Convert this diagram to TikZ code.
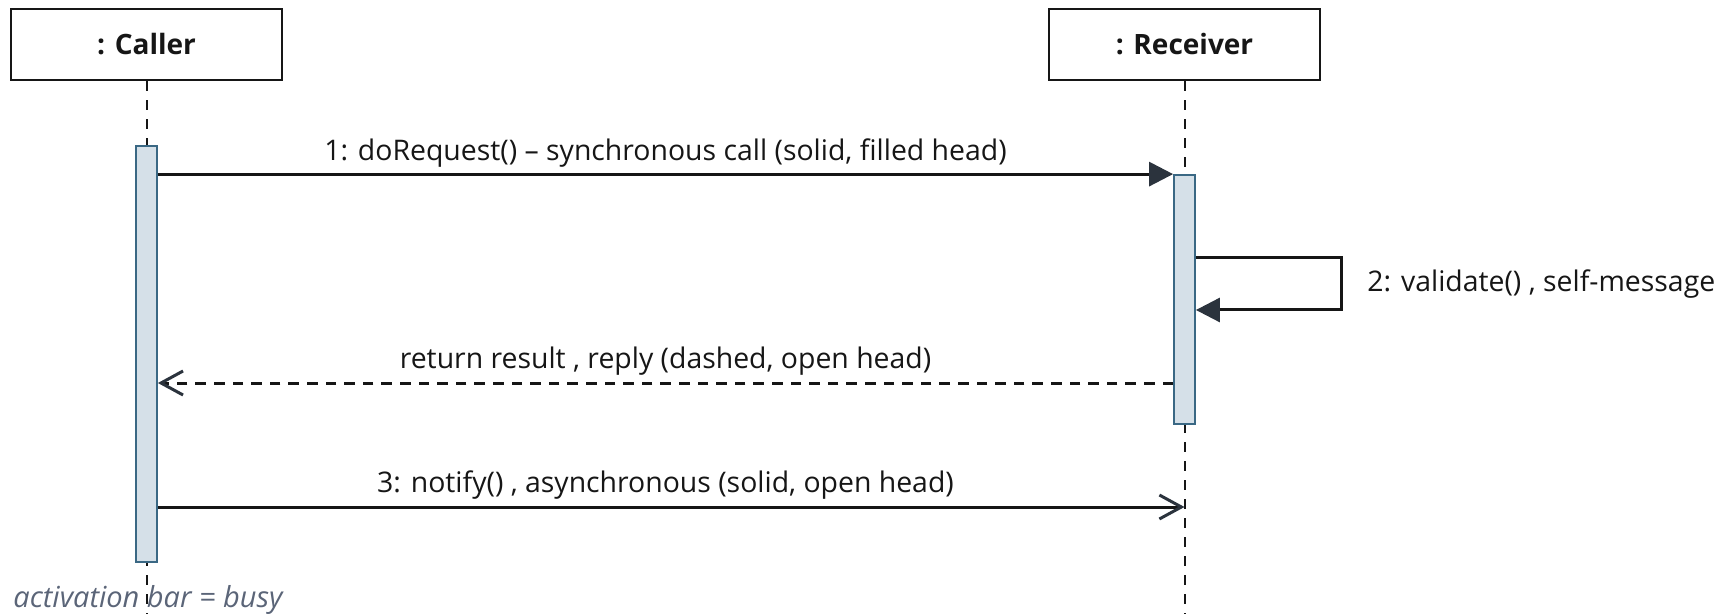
\documentclass[tikz,border=0pt]{standalone}
\usepackage{fontspec}
\setmainfont{Open Sans}
\usepackage{tikz}
\usetikzlibrary{arrows.meta,positioning}

\definecolor{ink}{HTML}{161616}
\definecolor{headcol}{HTML}{2B333D}
\definecolor{barfill}{HTML}{D5E0E8}
\definecolor{barline}{HTML}{3A6884}
\definecolor{notecol}{HTML}{5B6578}

\begin{document}
\begin{tikzpicture}[x=0.5pt,y=-0.5pt,
    objbox/.style={draw=ink,line width=1.3pt,minimum width=135.5pt,minimum height=35.5pt,
        font=\fontsize{14}{17}\selectfont\bfseries,text=ink},
    lifeline/.style={draw=ink,line width=1pt,dash pattern=on 5pt off 4.5pt},
    actbar/.style={draw=barline,fill=barfill,line width=0.9pt,minimum width=10.5pt,inner sep=0pt},
    msg/.style={draw=ink,line width=1.5pt},
    synchead/.style={-{Triangle[length=12pt,width=12pt,color=headcol]}},
    openhead/.style={-{Straight Barb[length=11pt,width=12pt,color=headcol]}},
    msglabel/.style={font=\fontsize{14.2}{17}\selectfont,text=ink,anchor=base,inner sep=0pt}]
            \useasboundingbox (0,0) rectangle (1733,614);

            % objects and their lifelines
            \node[objbox] (caller) at (146.5,44.5) {: Caller};
            \node[objbox] (receiver) at (1184.5,44.5) {: Receiver};
            \coordinate (callerend) at (146.5,614);
            \coordinate (receiverend) at (1184.5,614);
            \draw[lifeline] (caller.south) -- (callerend);
            \draw[lifeline] (receiver.south) -- (receiverend);

            % activation bars
            \node[actbar,minimum height=208pt] (callerbar) at (146.5,354) {};
            \node[actbar,minimum height=124.5pt] (receiverbar) at (1184.5,299.5) {};

            % 1: synchronous call
            \draw[msg,synchead] (callerbar.east |- receiverbar.north) -- (receiverbar.north west);
            \node[msglabel] (reqlabel) at (665.5,161) {1: doRequest() -- synchronous call (solid, filled head)};

            % 2: self-message
            \coordinate (loopa) at (1341,258);
            \coordinate (loopb) at (1341,310);
            \draw[msg,synchead] (receiverbar.east |- loopa) -- (loopa) -- (loopb) -- (receiverbar.east |- loopb);
            \node[msglabel,anchor=west] (validlabel) at (1367,284) {2: validate() , self-message};

            % reply
            \coordinate (replyy) at (0,383);
            \draw[msg,openhead,dash pattern=on 5.3pt off 4pt] (receiverbar.west |- replyy) -- (callerbar.east |- replyy);
            \node[msglabel] (replylabel) at (665.5,368) {return result , reply (dashed, open head)};

            % 3: asynchronous
            \coordinate (notifyy) at (0,507);
            \draw[msg,openhead] (callerbar.east |- notifyy) -- (receiver.south |- notifyy);
            \node[msglabel] (notifylabel) at (665.5,492) {3: notify() , asynchronous (solid, open head)};

            \node[anchor=base west,inner sep=0pt,text=notecol,font=\fontsize{14.5}{17}\selectfont\itshape] (note) at (13,607) {activation bar = busy};
        \end{tikzpicture}
\end{document}
